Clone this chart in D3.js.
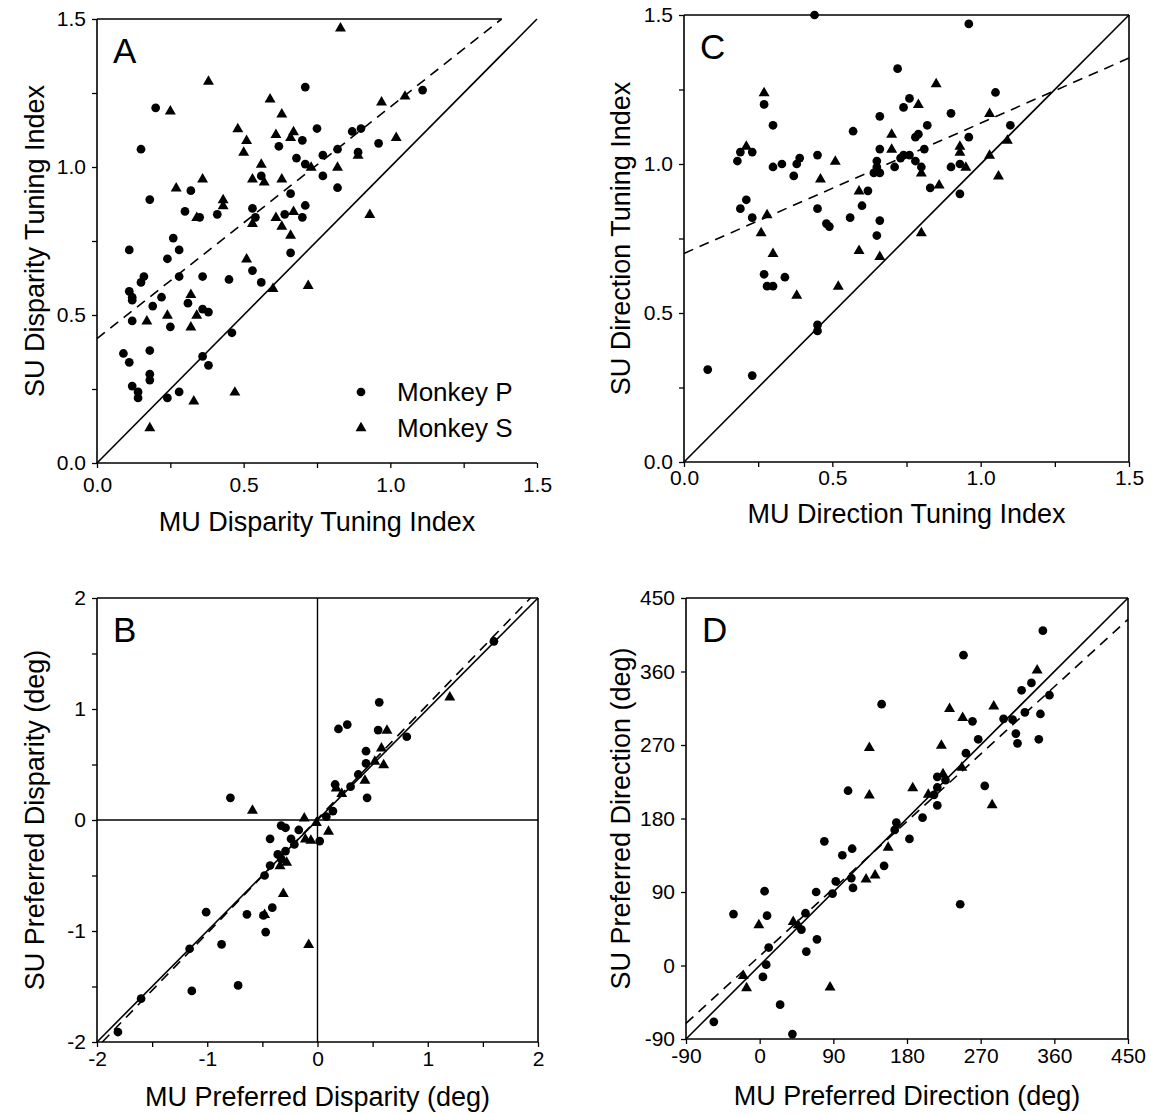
<!DOCTYPE html>
<html><head><meta charset="utf-8">
<script src="https://cdn.jsdelivr.net/npm/d3@7"></script>
<style>
html,body{margin:0;padding:0;background:#fff;}
svg{display:block;font-family:"Liberation Sans",Arial,Helvetica,sans-serif;}
</style></head>
<body>
<script>
// ---------- DATA ----------
// Panel A: disparity tuning index (MU vs SU)
const aMonkeyP = [[0.71,1.27],[0.20,1.20],[0.15,1.06],[0.70,1.09],[0.62,1.07],[0.68,1.03],[0.71,1.01],[0.56,0.97],[0.66,0.91],[0.71,0.87],[0.70,0.83],[0.64,0.84],[0.53,0.86],[0.54,0.83],[0.32,0.92],[0.18,0.89],[0.30,0.85],[0.35,0.83],[0.41,0.84],[0.26,0.76],
 [1.11,1.26],[0.75,1.13],[0.87,1.12],[0.90,1.13],[0.96,1.08],[0.77,1.04],[0.82,1.06],[0.89,1.05],[0.77,0.97],[0.82,0.93],
 [0.11,0.72],[0.28,0.72],[0.24,0.69],[0.66,0.71],[0.53,0.65],[0.56,0.61],[0.16,0.63],[0.15,0.61],[0.28,0.63],[0.36,0.63],[0.45,0.62],[0.11,0.58],[0.12,0.56],[0.12,0.55],[0.22,0.56],[0.19,0.53],[0.31,0.54],[0.36,0.52],[0.38,0.51],[0.12,0.48],[0.25,0.46],[0.46,0.44],[0.09,0.37],[0.18,0.38],[0.11,0.34],[0.36,0.36],[0.38,0.33],[0.18,0.30],[0.18,0.28],[0.12,0.26],[0.14,0.24],[0.14,0.22],[0.24,0.22],[0.28,0.24]];
const aMonkeyS = [[0.38,1.29],[0.25,1.19],[0.59,1.23],[0.63,1.18],[0.48,1.13],[0.51,1.09],[0.50,1.05],[0.61,1.11],[0.67,1.12],[0.66,1.10],[0.56,1.01],[0.53,0.96],[0.57,0.95],[0.63,0.96],[0.67,0.85],[0.61,0.83],[0.63,0.80],[0.66,0.77],[0.53,0.81],[0.36,0.96],[0.27,0.93],[0.43,0.89],[0.43,0.87],[0.34,0.83],
 [0.83,1.47],[1.05,1.24],[0.97,1.22],[1.02,1.10],[0.89,1.04],[0.73,1.00],[0.82,1.00],[0.93,0.84],
 [0.51,0.69],[0.60,0.59],[0.72,0.60],[0.32,0.57],[0.34,0.50],[0.17,0.48],[0.24,0.50],[0.32,0.46],[0.33,0.21],[0.47,0.24],[0.18,0.12]];
const aFit = [0.42, 0.783]; // intercept, slope

// Panel C: direction tuning index
const cMonkeyP = [[0.44,1.50],[0.72,1.32],[0.27,1.20],[0.76,1.22],[0.74,1.19],[0.30,1.13],[0.66,1.16],[0.57,1.11],[0.19,1.04],[0.23,1.04],[0.18,1.01],[0.66,1.05],[0.74,1.03],[0.73,1.02],[0.65,1.01],[0.65,0.99],[0.71,0.99],[0.45,1.03],[0.39,1.02],[0.38,1.00],[0.30,0.99],[0.33,1.00],[0.37,0.96],[0.64,0.97],[0.66,0.97],[0.62,0.91],[0.60,0.86],[0.56,0.82],[0.45,0.85],[0.21,0.88],[0.19,0.85],[0.23,0.82],[0.48,0.80],[0.49,0.79],[0.66,0.81],[0.65,0.76],
 [0.96,1.47],[1.05,1.24],[0.90,1.17],[0.82,1.13],[0.79,1.10],[0.78,1.09],[1.10,1.13],[0.96,1.09],[0.81,1.05],[0.76,1.03],[0.78,1.01],[0.80,0.99],[0.90,0.99],[0.93,1.00],[0.83,0.92],[0.93,0.90],
 [0.27,0.63],[0.34,0.62],[0.28,0.59],[0.30,0.59],[0.45,0.46],[0.45,0.44],[0.08,0.31],[0.23,0.29]];
const cMonkeyS = [[0.27,1.24],[0.70,1.10],[0.21,1.06],[0.70,1.05],[0.51,1.01],[0.46,0.95],[0.59,0.91],[0.28,0.83],[0.26,0.77],
 [0.85,1.27],[0.79,1.20],[1.03,1.17],[1.09,1.08],[0.93,1.06],[0.93,1.04],[0.80,0.97],[0.95,0.99],[1.03,1.03],[1.06,0.96],[0.86,0.93],[0.80,0.77],
 [0.30,0.70],[0.59,0.71],[0.66,0.69],[0.38,0.56],[0.52,0.59]];
const cFit = [0.70, 0.437];

// Panel B: preferred disparity (deg)
const bMonkeyP = [[1.60,1.61],[0.56,1.06],[0.19,0.82],[0.27,0.86],[0.55,0.81],[0.81,0.75],[0.44,0.62],[0.44,0.51],[0.37,0.41],[0.16,0.32],[0.30,0.30],[0.45,0.20],[-0.79,0.20],[0.14,0.08],[0.08,0.03],
 [0.02,-0.19],[-0.33,-0.05],[-0.29,-0.07],[-0.17,-0.09],[-0.43,-0.17],[-0.24,-0.17],[-0.21,-0.22],[-0.29,-0.28],[-0.36,-0.31],[-0.33,-0.35],[-0.43,-0.41],[-0.48,-0.50],[-0.41,-0.79],[-0.49,-0.86],[-0.64,-0.85],[-1.01,-0.83],[-0.47,-1.01],[-0.87,-1.12],[-1.16,-1.16],[-0.72,-1.49],[-1.14,-1.54],[-1.60,-1.61],[-1.81,-1.91]];
const bMonkeyS = [[1.20,1.11],[0.63,0.81],[0.58,0.65],[0.60,0.50],[0.52,0.53],[0.43,0.36],[0.17,0.29],[0.22,0.24],[-0.59,0.09],[-0.01,-0.02],
 [-0.12,0.02],[0.10,-0.10],[-0.11,-0.17],[-0.06,-0.18],[-0.34,-0.41],[-0.28,-0.38],[-0.31,-0.66],[-0.48,-0.85],[-0.08,-1.12]];
const bFit = [0.01, 1.03];

// Panel D: preferred direction (deg)
const dMonkeyP = [[346,410],[249,380],[332,346],[320,337],[354,331],[149,320],[324,310],[343,308],[260,299],[298,302],[309,301],[313,284],[315,272],[341,277],[267,277],[252,260],[217,231],[227,227],[217,218],[275,220],[108,214],[213,209],[217,196],[199,181],[167,175],
 [165,166],[183,155],[79,152],[101,135],[113,143],[152,122],[112,107],[93,103],[114,95],[89,88],[69,90],[6,91],[245,75],[-32,63],[9,61],[56,64],[51,44],[70,32],[57,17],[11,22],[8,1],[4,-14],[25,-48],[-56,-69],[40,-84]];
const dMonkeyS = [[339,362],[232,315],[286,318],[248,304],[222,270],[134,267],[247,243],[224,235],[134,209],[187,218],[206,210],[284,197],
 [157,145],[141,111],[130,106],[-1,50],[41,54],[47,50],[-20,-12],[-16,-27],[86,-26]];
const dFit = [11.6, 0.916];

// Tick values / labels
const idxMajor = [0, 0.5, 1.0, 1.5];
const idxMinor = [0, 0.25, 0.5, 0.75, 1.0, 1.25, 1.5];
const dispMajor = [-2, -1, 0, 1, 2];
const dispMinor = [-2, -1.5, -1, -0.5, 0, 0.5, 1, 1.5, 2];
const dirMajor = [-90, 0, 90, 180, 270, 360, 450];
const legendLabels = ["Monkey P", "Monkey S"];

// ---------- DRAW ----------
const W = 1151, H = 1114;
const svg = d3.select("body").append("svg").attr("width", W).attr("height", H);

const circleSym = d3.symbol(d3.symbolCircle, 60);
const triSym = d3.symbol(d3.symbolTriangle, 52);
const TICK_FS = 21, TITLE_FS = 27;

function panel(o) {
  const x = d3.scaleLinear().domain(o.xd).range([o.l, o.r]);
  const y = d3.scaleLinear().domain(o.yd).range([o.b, o.t]);
  const g = svg.append("g");
  const clean = s => { s.select(".domain").remove(); s.selectAll("line").attr("stroke", "#000").attr("stroke-width", 1.3); };
  const txt = s => s.selectAll("text").attr("font-size", TICK_FS).attr("fill", "#000").attr("font-family", "Liberation Sans, Arial, sans-serif");

  // x axis
  g.append("g").attr("transform", `translate(0,${o.b})`)
    .call(d3.axisBottom(x).tickValues(o.xMinor).tickSize(5).tickFormat(""))
    .call(clean);
  g.append("g").attr("transform", `translate(0,${o.b})`)
    .call(d3.axisBottom(x).tickValues(o.xMajor).tickSize(0).tickPadding(o.xPad).tickFormat(o.fmt))
    .call(clean).call(txt);
  // y axis
  g.append("g").attr("transform", `translate(${o.l},0)`)
    .call(d3.axisLeft(y).tickValues(o.yMinor).tickSize(5).tickFormat(""))
    .call(clean);
  g.append("g").attr("transform", `translate(${o.l},0)`)
    .call(d3.axisLeft(y).tickValues(o.yMajor).tickSize(0).tickPadding(11).tickFormat(o.fmt))
    .call(clean).call(txt);

  // frame
  const fr = g.append("g").attr("stroke", "#000").attr("stroke-width", 1.6).attr("fill", "none");
  fr.append("line").attr("x1", o.l).attr("x2", o.l).attr("y1", o.t).attr("y2", o.b);
  fr.append("line").attr("x1", o.l).attr("x2", o.r).attr("y1", o.b).attr("y2", o.b);
  if (o.partialTop != null) {
    fr.append("line").attr("x1", o.l).attr("x2", x(o.partialTop)).attr("y1", o.t).attr("y2", o.t);
  } else {
    fr.append("line").attr("x1", o.l).attr("x2", o.r).attr("y1", o.t).attr("y2", o.t);
    fr.append("line").attr("x1", o.r).attr("x2", o.r).attr("y1", o.t).attr("y2", o.b);
  }
  if (o.cross) {
    fr.append("line").attr("x1", x(0)).attr("x2", x(0)).attr("y1", o.t).attr("y2", o.b).attr("stroke-width", 1.4);
    fr.append("line").attr("x1", o.l).attr("x2", o.r).attr("y1", y(0)).attr("y2", y(0)).attr("stroke-width", 1.4);
  }

  // unity line
  g.append("line").attr("x1", x(o.xd[0])).attr("y1", y(o.xd[0])).attr("x2", x(o.xd[1])).attr("y2", y(o.xd[1]))
    .attr("stroke", "#000").attr("stroke-width", 1.6);
  // regression (dashed)
  const [a, b] = o.fit;
  let x0 = o.xd[0], x1 = o.xd[1];
  let y0 = a + b * x0, y1 = a + b * x1;
  if (y1 > o.yd[1]) { x1 = (o.yd[1] - a) / b; y1 = o.yd[1]; }
  if (y0 < o.yd[0]) { x0 = (o.yd[0] - a) / b; y0 = o.yd[0]; }
  g.append("line").attr("x1", x(x0)).attr("y1", y(y0)).attr("x2", x(x1)).attr("y2", y(y1))
    .attr("stroke", "#000").attr("stroke-width", 1.6).attr("stroke-dasharray", "10,7");

  // points
  g.append("g").selectAll("path").data(o.p).join("path")
    .attr("d", circleSym).attr("transform", d => `translate(${x(d[0])},${y(d[1])})`).attr("fill", "#000");
  g.append("g").selectAll("path").data(o.s).join("path")
    .attr("d", triSym).attr("transform", d => `translate(${x(d[0])},${y(d[1]) + 0.5})`).attr("fill", "#000");

  // panel letter
  g.append("text").attr("x", o.l + 16).attr("y", o.t + 44).attr("font-size", 35).text(o.letter);

  // titles
  g.append("text").attr("x", (o.l + o.r) / 2).attr("y", o.b + o.xTitleOff).attr("text-anchor", "middle")
    .attr("font-size", TITLE_FS).text(o.xTitle);
  g.append("text").attr("transform", `translate(${o.l - o.yTitleOff},${(o.t + o.b) / 2}) rotate(-90)`)
    .attr("text-anchor", "middle").attr("font-size", TITLE_FS).text(o.yTitle);

  if (o.legend) {
    const lg = g.append("g");
    lg.append("path").attr("d", circleSym).attr("transform", `translate(${o.l + 264},${o.t + 373})`);
    lg.append("path").attr("d", triSym).attr("transform", `translate(${o.l + 264},${o.t + 409})`);
    lg.append("text").attr("x", o.l + 300).attr("y", o.t + 382).attr("font-size", 26).text(legendLabels[0]);
    lg.append("text").attr("x", o.l + 300).attr("y", o.t + 418).attr("font-size", 26).text(legendLabels[1]);
  }
}

const fmt1 = d3.format(".1f");
const fmtInt = d => String(d);

panel({ letter: "A", l: 97, r: 537, t: 19, b: 463, xd: [0, 1.5], yd: [0, 1.5],
  xMajor: idxMajor, xMinor: idxMinor, yMajor: idxMajor, yMinor: idxMinor, fmt: fmt1, xPad: 14,
  p: aMonkeyP, s: aMonkeyS, fit: aFit, partialTop: 1.38, legend: true,
  xTitle: "MU Disparity Tuning Index", yTitle: "SU Disparity Tuning Index", xTitleOff: 68, yTitleOff: 53 });

panel({ letter: "C", l: 684, r: 1129, t: 15, b: 462, xd: [0, 1.5], yd: [0, 1.5],
  xMajor: idxMajor, xMinor: idxMinor, yMajor: idxMajor, yMinor: idxMinor, fmt: fmt1, xPad: 8,
  p: cMonkeyP, s: cMonkeyS, fit: cFit,
  xTitle: "MU Direction Tuning Index", yTitle: "SU Direction Tuning Index", xTitleOff: 61, yTitleOff: 54 });

panel({ letter: "B", l: 97, r: 538, t: 598, b: 1042, xd: [-2, 2], yd: [-2, 2],
  xMajor: dispMajor, xMinor: dispMinor, yMajor: dispMajor, yMinor: dispMinor, fmt: fmtInt, xPad: 9, cross: true,
  p: bMonkeyP, s: bMonkeyS, fit: bFit,
  xTitle: "MU Preferred Disparity (deg)", yTitle: "SU Preferred Disparity (deg)", xTitleOff: 64, yTitleOff: 53 });

panel({ letter: "D", l: 686, r: 1128, t: 598, b: 1039, xd: [-90, 450], yd: [-90, 450],
  xMajor: dirMajor, xMinor: dirMajor, yMajor: dirMajor, yMinor: dirMajor, fmt: fmtInt, xPad: 9,
  p: dMonkeyP, s: dMonkeyS, fit: dFit,
  xTitle: "MU Preferred Direction (deg)", yTitle: "SU Preferred Direction (deg)", xTitleOff: 66, yTitleOff: 56 });
</script>
</body></html>
